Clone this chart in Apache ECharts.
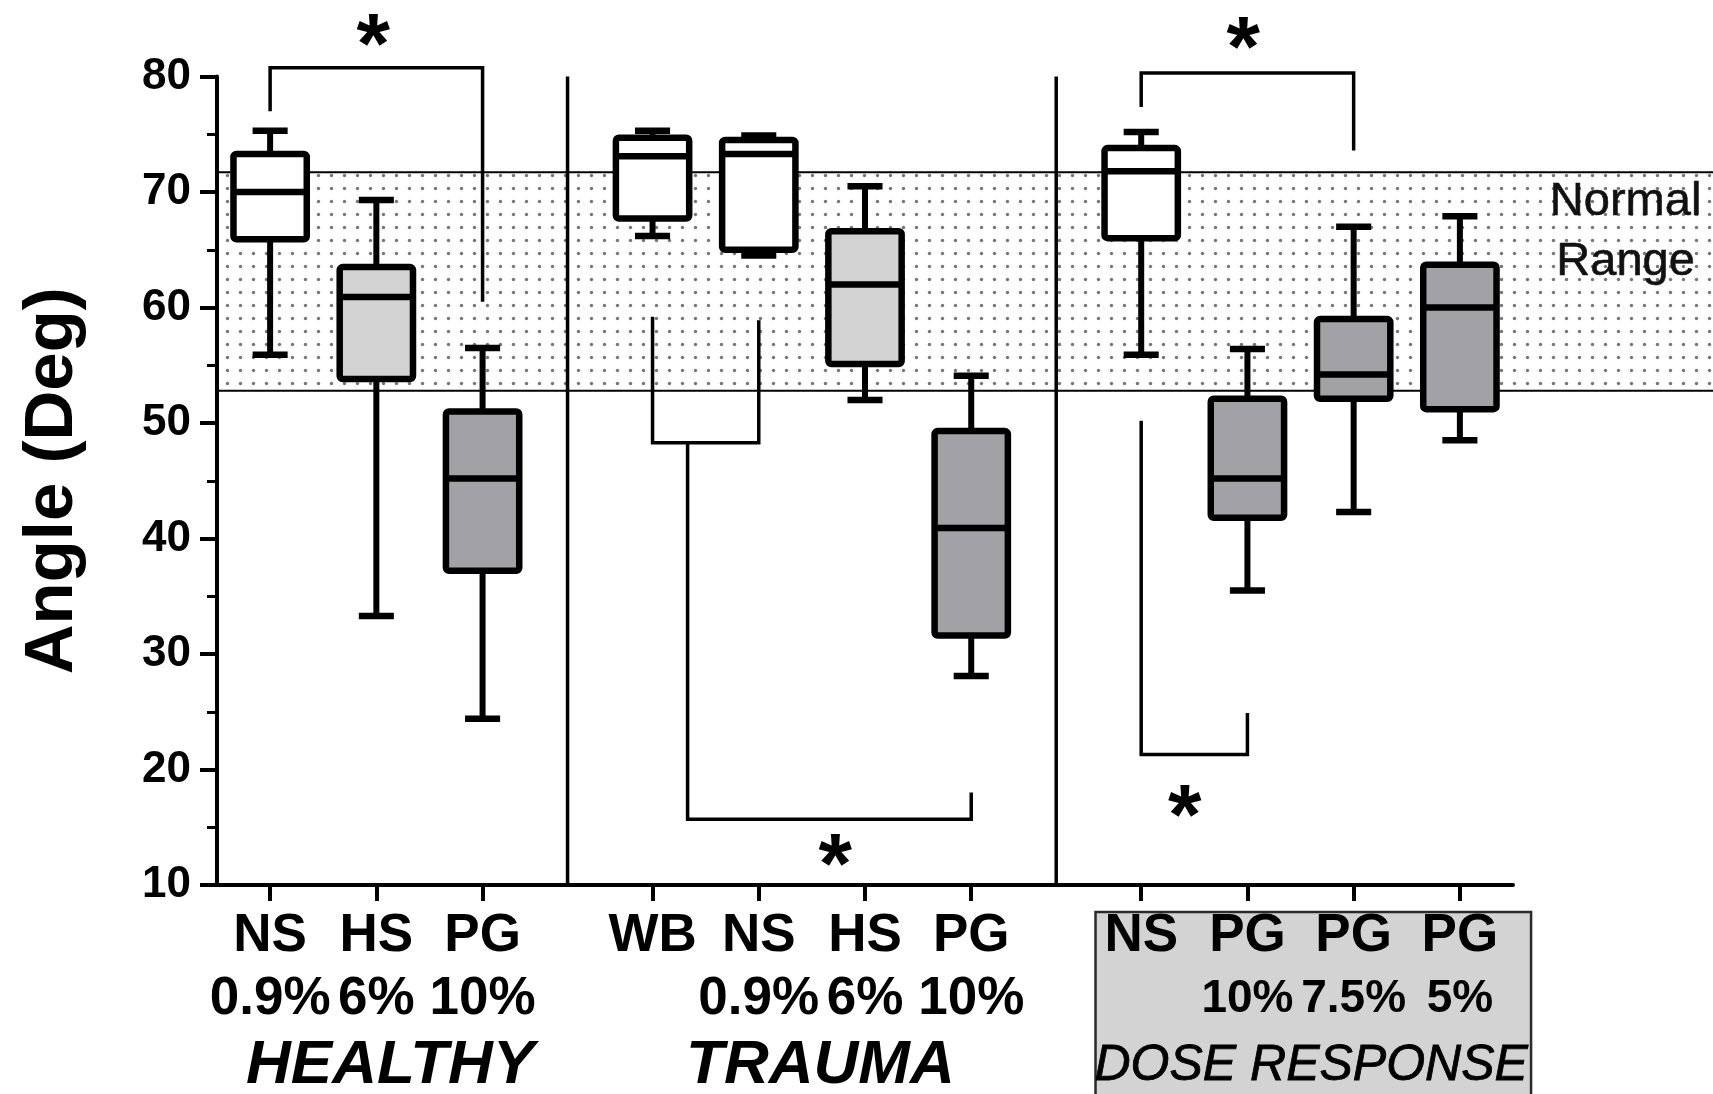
<!DOCTYPE html>
<html><head><meta charset="utf-8">
<script src="https://cdn.jsdelivr.net/npm/echarts@6/dist/echarts.min.js"></script>
<style>html,body{margin:0;padding:0;background:#fff}#c{width:1713px;height:1094px}</style>
</head><body><div id="c"></div>
<script>
// ---- data ----
const xPos        = [1, 2, 3, 4.6, 5.6, 6.6, 7.6, 9.2, 10.2, 11.2, 12.2];
const labelTop    = ['NS','HS','PG','WB','NS','HS','PG','NS','PG','PG','PG'];
const labelBottom = ['0.9%','6%','10%','','0.9%','6%','10%','','10%','7.5%','5%'];
const narrowBottom= [false,false,false,false,false,false,false,false,true,true,true];
const mins    = [55.9, 33.3, 24.4, 66.2, 64.5, 52.0, 28.1, 55.9, 35.5, 42.3, 48.5];
const q1s     = [65.9, 53.8, 37.2, 67.7, 65.0, 55.1, 31.6, 66.0, 41.8, 52.1, 51.2];
const medians = [70.0, 60.9, 45.2, 73.1, 73.3, 62.0, 40.9, 71.8, 45.2, 54.2, 60.0];
const q3s     = [73.3, 63.5, 51.0, 74.7, 74.5, 66.6, 49.3, 73.8, 52.1, 59.0, 63.7];
const maxs    = [75.3, 69.3, 56.5, 75.3, 74.9, 70.5, 54.1, 75.2, 56.4, 67.0, 67.9];
const fillKind= [0, 1, 2, 0, 0, 1, 2, 0, 2, 2, 2];
const yTicks  = [10, 20, 30, 40, 50, 60, 70, 80];
const normalRange = [52.8, 71.7];
const separators = [3.8, 8.4];
// brackets: [xLeft, yLeftEnd, yBar, xRight, yRightEnd]
const brackets = [
  [1, 77.0, 80.75, 3, 60.5],
  [4.6, 59.2, 48.3, 5.6, 58.9],
  [4.93, 48.3, 15.7, 7.6, 18.0],
  [9.2, 77.35, 80.3, 11.2, 73.6],
  [9.2, 50.2, 21.3, 10.2, 24.9]
];
const asterisks = [[1.97, 83.9], [6.32, 12.9], [10.16, 83.7], [9.61, 17.2]];
const groupNames = ['HEALTHY', 'TRAUMA', 'DOSE RESPONSE'];
const groupX = [2.13, 6.18, 10.8];
const groupY = -5.7;
const bandLabel = 'Normal\nRange';
const bandLabelPos = [13.76, 66.5];
const doseBox = [8.77, 12.87, -8.8, 7.66];

// ---- style ----
const FILLS = ['#ffffff', '#d2d2d2', '#a1a1a6'];
const FONT = '"Liberation Sans", Arial, sans-serif';
const BOX_W = 0.69, CAP_W = 0.33;

function makeDots(){
  const c = document.createElement('canvas'); c.width = 13; c.height = 13;
  const g = c.getContext('2d');
  g.fillStyle = '#ffffff'; g.fillRect(0,0,13,13);
  g.fillStyle = '#767676'; g.beginPath(); g.arc(6.5,6.5,1.7,0,Math.PI*2); g.fill();
  return c;
}
const dots = makeDots();

const chart = echarts.init(document.getElementById('c'), null, {renderer:'canvas'});

const boxData = xPos.map((x,i)=>[x, mins[i], q1s[i], medians[i], q3s[i], maxs[i], fillKind[i]]);

const option = {
  animation: false,
  backgroundColor: '#ffffff',
  grid: {left: 217, right: 200, top: 76.5, bottom: 209, containLabel: false, outerBoundsMode: 'none'},
  xAxis: {
    type: 'value', min: 0.5, max: 12.7, z: 5,
    splitLine: {show: false},
    axisLine: {show: true, onZero: false, lineStyle: {color: '#000', width: 4}},
    axisTick: {show: true, customValues: xPos, length: 16, lineStyle: {color: '#000', width: 4}},
    axisLabel: {
      show: true, customValues: xPos, margin: 20, interval: 0, hideOverlap: false,
      showMinLabel: true, showMaxLabel: true,
      formatter: function(v){
        const i = xPos.findIndex(p => Math.abs(p - v) < 1e-6);
        if (i < 0) return '';
        let s = '{t|' + labelTop[i] + '}';
        if (labelBottom[i]) s += '\n{' + (narrowBottom[i] ? 'n' : 't') + '|' + labelBottom[i] + '}';
        return s;
      },
      rich: {
        t: {fontFamily: FONT, fontWeight: 'bold', fontSize: 53, lineHeight: 63, color: '#000', align: 'center'},
        n: {fontFamily: FONT, fontWeight: 'bold', fontSize: 46, lineHeight: 63, color: '#000', align: 'center'}
      }
    }
  },
  yAxis: {
    type: 'value', min: 10, max: 80, interval: 10, z: 5,
    name: 'Angle (Deg)', nameLocation: 'middle', nameGap: 130, nameRotate: 90,
    nameTextStyle: {fontFamily: FONT, fontWeight: 'bold', fontSize: 69, color: '#000'},
    splitLine: {show: false},
    axisLine: {show: true, onZero: false, lineStyle: {color: '#000', width: 4}},
    axisTick: {show: true, length: 17, lineStyle: {color: '#000', width: 4}},
    minorTick: {show: true, splitNumber: 2, length: 10, lineStyle: {color: '#000', width: 3}},
    axisLabel: {fontFamily: FONT, fontWeight: 'bold', fontSize: 44, color: '#000', margin: 26,
      formatter: v => yTicks.includes(v) ? String(v) : ''}
  },
  series: [
    { // normal range band
      type: 'custom', z: 1, clip: false, silent: true,
      data: [[0.5, 14.9, normalRange[0], normalRange[1]]],
      renderItem: function(params, api){
        const p1 = api.coord([api.value(0), api.value(3)]);
        const p2 = api.coord([api.value(1), api.value(2)]);
        return {type: 'group', children: [
          {type: 'rect', shape: {x: p1[0], y: p1[1], width: p2[0]-p1[0], height: p2[1]-p1[1]},
            style: {fill: {image: dots, repeat: 'repeat'}}},
          {type: 'line', shape: {x1: p1[0], y1: p1[1], x2: p2[0], y2: p1[1]}, style: {stroke: '#000', lineWidth: 2}},
          {type: 'line', shape: {x1: p1[0], y1: p2[1], x2: p2[0], y2: p2[1]}, style: {stroke: '#000', lineWidth: 2}}
        ]};
      }
    },
    { // dose response label box
      type: 'custom', z: 1, clip: false, silent: true,
      data: [doseBox],
      renderItem: function(params, api){
        const p1 = api.coord([api.value(0), api.value(3)]);
        const p2 = api.coord([api.value(1), api.value(2)]);
        return {type: 'rect', shape: {x: p1[0], y: p1[1], width: p2[0]-p1[0], height: p2[1]-p1[1]},
          style: {fill: '#d3d3d3', stroke: '#2a2a2a', lineWidth: 2.5}};
      }
    },
    { // separators
      type: 'custom', z: 2, clip: false, silent: true,
      data: separators.map(x => [x, 10, 80]),
      renderItem: function(params, api){
        const a = api.coord([api.value(0), api.value(1)]);
        const b = api.coord([api.value(0), api.value(2)]);
        return {type: 'line', shape: {x1: a[0], y1: a[1], x2: b[0], y2: b[1]}, style: {stroke: '#000', lineWidth: 3.5}};
      }
    },
    { // box plots
      type: 'custom', z: 3, clip: false,
      data: boxData,
      renderItem: function(params, api){
        const x = api.value(0);
        const lo = api.coord([x, api.value(1)]);
        const q1 = api.coord([x, api.value(2)]);
        const md = api.coord([x, api.value(3)]);
        const q3 = api.coord([x, api.value(4)]);
        const hi = api.coord([x, api.value(5)]);
        const bw = api.size([BOX_W, 0])[0];
        const cw = api.size([CAP_W, 0])[0];
        const cx = lo[0];
        const fill = FILLS[api.value(6)];
        const ls = {stroke: '#000', lineWidth: 6.5, lineCap: 'butt'};
        return {type: 'group', children: [
          {type: 'line', shape: {x1: cx, y1: hi[1], x2: cx, y2: q3[1]}, style: Object.assign({}, ls, {lineWidth: 6})},
          {type: 'line', shape: {x1: cx, y1: q1[1], x2: cx, y2: lo[1]}, style: Object.assign({}, ls, {lineWidth: 6})},
          {type: 'line', shape: {x1: cx-cw/2, y1: hi[1], x2: cx+cw/2, y2: hi[1]}, style: ls},
          {type: 'line', shape: {x1: cx-cw/2, y1: lo[1], x2: cx+cw/2, y2: lo[1]}, style: ls},
          {type: 'rect', shape: {x: cx-bw/2, y: q3[1], width: bw, height: q1[1]-q3[1], r: 3},
            style: {fill: fill, stroke: '#000', lineWidth: 6.5, lineJoin: 'round'}},
          {type: 'line', shape: {x1: cx-bw/2, y1: md[1], x2: cx+bw/2, y2: md[1]}, style: ls}
        ]};
      }
    },
    { // significance brackets
      type: 'custom', z: 4, clip: false, silent: true,
      data: brackets,
      renderItem: function(params, api){
        const a = api.coord([api.value(0), api.value(1)]);
        const b = api.coord([api.value(0), api.value(2)]);
        const c = api.coord([api.value(3), api.value(2)]);
        const d = api.coord([api.value(3), api.value(4)]);
        return {type: 'polyline', shape: {points: [a, b, c, d]},
          style: {stroke: '#000', lineWidth: 3.5, fill: null, lineJoin: 'miter'}};
      }
    },
    { // asterisks
      type: 'custom', z: 4, clip: false, silent: true,
      data: asterisks,
      renderItem: function(params, api){
        const p = api.coord([api.value(0), api.value(1)]);
        const fs = 86;
        return {type: 'text', x: p[0], y: p[1] + 0.21*fs,
          style: {text: '*', font: 'bold ' + fs + 'px ' + FONT, fill: '#000', align: 'center', verticalAlign: 'middle'}};
      }
    },
    { // group names
      type: 'custom', z: 6, clip: false, silent: true,
      data: groupX.map((x,i) => [x, groupY, i]),
      renderItem: function(params, api){
        const p = api.coord([api.value(0), api.value(1)]);
        const i = api.value(2);
        const font = i === 2 ? ('italic 50px ' + FONT) : ('italic bold 62px ' + FONT);
        return {type: 'text', x: p[0], y: p[1],
          style: {text: groupNames[i], font: font, fill: '#000', align: 'center', verticalAlign: 'middle',
            stroke: '#000', lineWidth: i === 2 ? 0.8 : 0}};
      }
    },
    { // normal range label
      type: 'custom', z: 4, clip: false, silent: true,
      data: [bandLabelPos],
      renderItem: function(params, api){
        const p = api.coord([api.value(0), api.value(1)]);
        return {type: 'text', x: p[0], y: p[1],
          style: {text: bandLabel, font: '47px ' + FONT, lineHeight: 60, fill: '#111', align: 'center', verticalAlign: 'middle',
            stroke: '#111', lineWidth: 0.6}};
      }
    }
  ]
};
chart.setOption(option);
</script>
</body></html>
